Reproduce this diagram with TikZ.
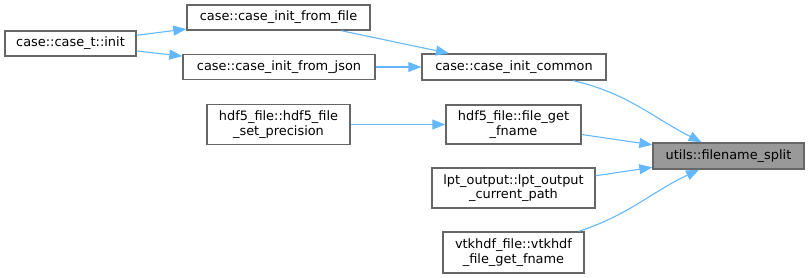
\documentclass[tikz,border=0pt]{standalone}
\usepackage{fontspec}
\setmainfont{DejaVu Sans}
\usetikzlibrary{arrows.meta}
\definecolor{edgeblue}{HTML}{63B8FF}
\definecolor{boxgray}{HTML}{666666}
\definecolor{hlgray}{HTML}{999999}
\tikzset{
  fn/.style={draw=boxgray, fill=white, line width=1.4pt, inner sep=0pt, align=center,
    font=\fontsize{12.9}{14.5}\selectfont},
  fnhl/.style={fn, fill=hlgray},
  call/.style={draw=edgeblue, line width=1.1pt, -{Triangle[length=13pt,width=10pt,color=edgeblue]}},
}
\begin{document}
\begin{tikzpicture}[x=1pt, y=-1pt]
    \useasboundingbox (0,0) rectangle (809,278);

    % callers, left to right
    \node[fn, minimum width=131, minimum height=25] (init) at (70.5, 43.5) {case::case\_t::init};
    \node[fn, minimum width=183, minimum height=25] (fromfile) at (278.5, 17.5) {case::case\_init\_from\_file};
    \node[fn, minimum width=192, minimum height=25] (fromjson) at (279, 67) {case::case\_init\_from\_json};
    \node[fn, minimum width=143, minimum height=40] (setprec) at (278.5, 124.5) {hdf5\_file::hdf5\_file\\\_set\_precision};
    \node[fn, minimum width=184, minimum height=26] (common) at (514, 67) {case::case\_init\_common};
    \node[fn, minimum width=135, minimum height=39] (getfname) at (513.5, 124.5) {hdf5\_file::file\_get\\\_fname};
    \node[fn, minimum width=163, minimum height=40] (lptpath) at (513.5, 188) {lpt\_output::lpt\_output\\\_current\_path};
    \node[fn, minimum width=141, minimum height=41] (vtkfname) at (513.5, 252.5) {vtkhdf\_file::vtkhdf\\\_file\_get\_fname};

    % the function itself
    \node[fnhl, minimum width=151, minimum height=26] (split) at (728.5, 156) {utils::filename\_split};

    % calls
    \draw[call] (init) -- (fromfile);
    \draw[call] (init) -- (fromjson);
    \draw[call] (fromfile) -- (common);
    \draw[call] (fromjson) -- (common);
    \draw[call] (setprec) -- (getfname);
    \draw[call] (common) to[out=-13, in=153] (split);
    \draw[call] (getfname) -- (split);
    \draw[call] (lptpath) -- (split);
    \draw[call] (vtkfname) to[out=18, in=205] (split);
\end{tikzpicture}
\end{document}
